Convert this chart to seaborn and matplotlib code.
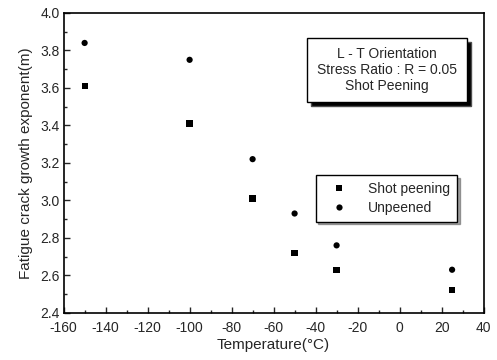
import matplotlib
matplotlib.use("Agg")
import matplotlib.pyplot as plt
import seaborn as sns
import pandas as pd
from matplotlib.ticker import MultipleLocator
from matplotlib.patches import Shadow

temps = [-150, -100, -70, -50, -30, 25]
shot_peening = [3.61, 3.41, 3.01, 2.72, 2.63, 2.52]
unpeened = [3.84, 3.75, 3.22, 2.93, 2.76, 2.63]
series_names = ["Shot peening", "Unpeened"]

df = pd.DataFrame({
    "T": temps * 2,
    "m": shot_peening + unpeened,
    "series": [series_names[0]] * len(temps) + [series_names[1]] * len(temps),
})

sns.set_style("ticks")
plt.rcParams['font.family'] = ['Liberation Sans', 'DejaVu Sans']
plt.rcParams['axes.unicode_minus'] = False

fig = plt.figure(figsize=(4.97, 3.6), dpi=100)
ax = fig.add_axes([0.128, 0.131, 0.845, 0.833])

sns.scatterplot(data=df, x="T", y="m", hue="series", style="series",
                markers={"Shot peening": "s", "Unpeened": "o"},
                palette={"Shot peening": "black", "Unpeened": "black"},
                s=20, edgecolor="black", linewidth=0, ax=ax, legend=True)

ax.set_xlim(-160, 40)
ax.set_ylim(2.4, 4.0)
ax.xaxis.set_major_locator(MultipleLocator(20))
ax.xaxis.set_minor_locator(MultipleLocator(10))
ax.yaxis.set_major_locator(MultipleLocator(0.2))
ax.yaxis.set_minor_locator(MultipleLocator(0.1))
ax.yaxis.set_major_formatter(matplotlib.ticker.FormatStrFormatter("%.1f"))
ax.tick_params(which="both", direction="in", labelsize=10, width=1)
ax.tick_params(axis="x", pad=6)
ax.tick_params(axis="y", pad=3)
ax.tick_params(which="major", length=4)
ax.tick_params(which="minor", length=2)
for sp in ax.spines.values():
    sp.set_visible(True)
    sp.set_linewidth(1.2)
    sp.set_color("black")

ax.set_xlabel("Temperature(°C)", fontsize=11, labelpad=2)
ax.set_ylabel("Fatigue crack growth exponent(m)", fontsize=11, labelpad=5)

leg = ax.legend(loc="upper left", bbox_to_anchor=(0.60, 0.46), frameon=True,
                fancybox=False, shadow=True, fontsize=10, handletextpad=0.9,
                borderpad=0.5, labelspacing=0.35, markerscale=1.0,
                borderaxespad=0, handlelength=2.4)
leg.get_frame().set_edgecolor("black")
leg.get_frame().set_linewidth(1.0)

ax.text(0.77, 0.81, "L - T Orientation\nStress Ratio : R = 0.05\nShot Peening",
        transform=ax.transAxes, ha="center", va="center", fontsize=10,
        linespacing=1.15,
        bbox=dict(boxstyle="square,pad=0.7", facecolor="white", edgecolor="black",
                  linewidth=1.0))

fig.canvas.draw()
tb = ax.texts[0].get_bbox_patch()
sh = Shadow(tb, 3, -3, facecolor="black", alpha=1.0, zorder=ax.texts[0].get_zorder() - 0.1)
ax.add_patch(sh)

fig.savefig("out.png", dpi=100)
